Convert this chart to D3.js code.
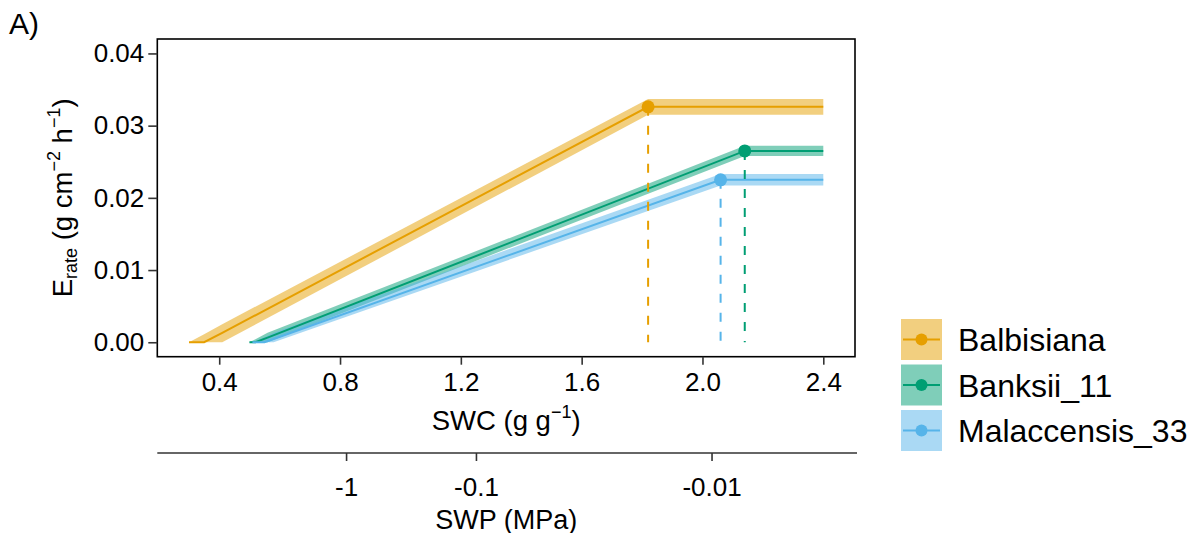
<!DOCTYPE html>
<html>
<head>
<meta charset="utf-8">
<script src="https://cdn.jsdelivr.net/npm/d3@7"></script>
<style>
  body { margin: 0; background: #fff; }
  text { font-family: "Liberation Sans", Arial, sans-serif; fill: #000; }
</style>
</head>
<body>
<svg id="chart" width="1193" height="533"></svg>
<script>
// Species, colours
const species = ["Balbisiana", "Banksii_11", "Malaccensis_33"];
const colors = ["#E69F00", "#009E73", "#56B4E9"];

// Segmented fits: SWC grid, fitted E rate and confidence band
const balSWC = [0.30, 0.35, 0.41, 1.82, 2.40];
const balFit = [0, 0, 0.0013, 0.0326, 0.0326];
const balLow = [0, 0, 0, 0.0315, 0.0315];
const balUpp = [0, 0.0011, 0.0025, 0.0337, 0.0337];

const banSWC = [0.50, 0.52, 0.56, 2.14, 2.40];
const banFit = [0, 0, 0.00065, 0.0265, 0.0265];
const banLow = [0, 0, 0, 0.0258, 0.0258];
const banUpp = [0, 0.0004, 0.0013, 0.0272, 0.0272];

const malSWC = [0.51, 0.55, 0.58, 2.06, 2.40];
const malFit = [0, 0, 0.00045, 0.0225, 0.0225];
const malLow = [0, 0, 0, 0.0217, 0.0217];
const malUpp = [0, 0.0007, 0.0013, 0.0233, 0.0233];

// Breakpoints (SWC, E rate)
const breakSWC = [1.82, 2.14, 2.06];
const breakE = [0.0326, 0.0265, 0.0225];

// Axis ticks
const xTicks = [0.4, 0.8, 1.2, 1.6, 2.0, 2.4];
const yTicks = [0, 0.01, 0.02, 0.03, 0.04];
const swpLabels = ["-1", "-0.1", "-0.01"];
const swpAtSWC = [0.82, 1.25, 2.03];

const series = [
  { swc: balSWC, fit: balFit, low: balLow, upp: balUpp },
  { swc: banSWC, fit: banFit, low: banLow, upp: banUpp },
  { swc: malSWC, fit: malFit, low: malLow, upp: malUpp }
].map((s, i) => ({
  name: species[i], color: colors[i],
  pts: s.swc.map((x, j) => ({ x, fit: s.fit[j], low: s.low[j], upp: s.upp[j] })),
  bx: breakSWC[i], by: breakE[i]
}));

const FONT = '"Liberation Sans", Arial, sans-serif';
const panel = { left: 157.3, right: 855, top: 39, bottom: 356.7 };
const x = d3.scaleLinear().domain([0.195, 2.505]).range([panel.left, panel.right]);
const y = d3.scaleLinear().domain([-0.002, 0.042]).range([panel.bottom, panel.top]);

const svg = d3.select("#chart");
svg.append("rect").attr("width", 1193).attr("height", 533).attr("fill", "#fff");

const plot = svg.append("g");

// confidence bands
const area = d3.area().x(d => x(d.x)).y0(d => y(d.low)).y1(d => y(d.upp));
plot.selectAll("path.band").data(series).join("path")
  .attr("class", "band")
  .attr("d", d => area(d.pts))
  .attr("fill", d => d.color).attr("fill-opacity", 0.5).attr("stroke", "none");

// fitted lines
const line = d3.line().x(d => x(d.x)).y(d => y(d.fit));
plot.selectAll("path.fit").data(series).join("path")
  .attr("class", "fit")
  .attr("d", d => line(d.pts))
  .attr("fill", "none").attr("stroke", d => d.color).attr("stroke-width", 2);

// breakpoint drop lines
plot.selectAll("line.drop").data(series).join("line")
  .attr("class", "drop")
  .attr("x1", d => x(d.bx)).attr("x2", d => x(d.bx))
  .attr("y1", d => y(d.by)).attr("y2", y(0))
  .attr("stroke", d => d.color).attr("stroke-width", 2)
  .attr("stroke-dasharray", "9,10");

// breakpoint points
plot.selectAll("circle.bp").data(series).join("circle")
  .attr("class", "bp")
  .attr("cx", d => x(d.bx)).attr("cy", d => y(d.by)).attr("r", 6.5)
  .attr("fill", d => d.color);

// panel border
svg.append("rect")
  .attr("x", panel.left).attr("y", panel.top)
  .attr("width", panel.right - panel.left).attr("height", panel.bottom - panel.top)
  .attr("fill", "none").attr("stroke", "#000").attr("stroke-width", 1.6);

// axes
const xAxis = svg.append("g").attr("transform", `translate(0,${panel.bottom})`)
  .call(d3.axisBottom(x).tickValues(xTicks).tickFormat(d3.format(".1f"))
    .tickSize(8).tickPadding(8).tickSizeOuter(0));
const yAxis = svg.append("g").attr("transform", `translate(${panel.left},0)`)
  .call(d3.axisLeft(y).tickValues(yTicks).tickFormat(d3.format(".2f"))
    .tickSize(9).tickPadding(4).tickSizeOuter(0));
[xAxis, yAxis].forEach(g => {
  g.select(".domain").remove();
  g.selectAll(".tick line").attr("stroke", "#333").attr("stroke-width", 1.6);
  g.selectAll(".tick text").attr("font-size", 26).attr("fill", "#000")
    .style("font-family", FONT);
});

// secondary SWP axis
const swpY = 453;
const swpAxis = svg.append("g").attr("transform", `translate(0,${swpY})`)
  .call(d3.axisBottom(x).tickValues(swpAtSWC).tickFormat((d, i) => swpLabels[i])
    .tickSize(8).tickPadding(17).tickSizeOuter(0));
swpAxis.select(".domain").attr("stroke", "#333").attr("stroke-width", 1.6)
  .attr("d", `M${panel.left},0H${panel.right + 2}`);
swpAxis.selectAll(".tick line").attr("stroke", "#333").attr("stroke-width", 1.6);
swpAxis.selectAll(".tick text").attr("font-size", 26).attr("fill", "#000")
  .style("font-family", FONT);

// axis titles
const cx = (panel.left + panel.right) / 2;
const xt = svg.append("text").attr("x", cx).attr("y", 430)
  .attr("text-anchor", "middle").attr("font-size", 27.5);
xt.append("tspan").text("SWC (g g");
xt.append("tspan").attr("font-size", 18).attr("dy", -12).text("\u22121");
xt.append("tspan").attr("dy", 12).text(")");

svg.append("text").attr("x", cx).attr("y", 528.5)
  .attr("text-anchor", "middle").attr("font-size", 27).text("SWP (MPa)");

const yt = svg.append("text")
  .attr("transform", `translate(72,${(panel.top + panel.bottom) / 2}) rotate(-90)`)
  .attr("text-anchor", "middle").attr("font-size", 27.5);
yt.append("tspan").text("E");
yt.append("tspan").attr("font-size", 18).attr("dy", 5).text("rate");
yt.append("tspan").attr("dy", -5).text(" (g cm");
yt.append("tspan").attr("font-size", 18).attr("dy", -12).text("\u22122");
yt.append("tspan").attr("dy", 12).text(" h");
yt.append("tspan").attr("font-size", 18).attr("dy", -12).text("\u22121");
yt.append("tspan").attr("dy", 12).text(")");

// panel tag
svg.append("text").attr("x", 9).attr("y", 34).attr("font-size", 30).text("A)");

// legend
const keySize = 41, keyGap = 4.5, legX = 901, legY = 319;
const leg = svg.append("g");
series.forEach((s, i) => {
  const gy = legY + i * (keySize + keyGap);
  const g = leg.append("g").attr("transform", `translate(${legX},${gy})`);
  g.append("rect").attr("width", keySize).attr("height", keySize)
    .attr("fill", s.color).attr("fill-opacity", 0.5);
  g.append("line").attr("x1", 2).attr("x2", keySize - 2)
    .attr("y1", keySize / 2).attr("y2", keySize / 2)
    .attr("stroke", s.color).attr("stroke-width", 2);
  g.append("circle").attr("cx", keySize / 2).attr("cy", keySize / 2).attr("r", 6)
    .attr("fill", s.color);
  g.append("text").attr("x", keySize + 16).attr("y", keySize / 2)
    .attr("dy", "0.36em").attr("font-size", 32).text(s.name);
});
</script>
</body>
</html>
